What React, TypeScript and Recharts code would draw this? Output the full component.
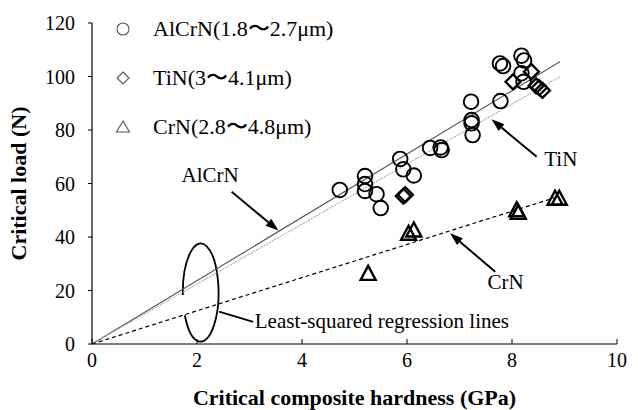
import {
  Legend,
  ReferenceArea,
  ReferenceDot,
  ReferenceLine,
  Scatter,
  ScatterChart,
  XAxis,
  YAxis,
} from 'recharts';

const FONT = '"Liberation Serif", Tinos, "Noto Serif", "DejaVu Serif", serif';

// AlCrN coatings
const alcrnHardness = [4.72, 5.2, 5.2, 5.2, 5.42, 5.5, 5.87, 5.93, 6.13, 6.44, 6.64, 6.66, 7.22, 7.23, 7.23, 7.25, 7.78, 7.77, 7.83, 8.18, 8.23, 8.18, 8.22];
const alcrnLoad = [57.6, 62.8, 59.8, 57.2, 56, 50.8, 69.2, 65.3, 63, 73.3, 73.5, 72.5, 90.6, 83.7, 82.5, 78.1, 90.8, 104.9, 103.9, 107.8, 106, 101.2, 98];

// TiN coatings
const tinHardness = [5.93, 5.97, 8.02, 8.37, 8.46, 8.52, 8.58];
const tinLoad = [55.3, 55.8, 98, 101.8, 96.5, 95.8, 94.8];

// CrN coatings
const crnHardness = [5.26, 6.03, 6.13, 8.09, 8.12, 8.82, 8.9];
const crnLoad = [26.4, 41.4, 42.6, 50.2, 49.2, 54.5, 54.5];

// regression line end points (from origin)
const alcrnFitEnd = { x: 8.91, y: 105.5 };
const tinFitEnd = { x: 8.91, y: 99.9 };
const crnFitEnd = { x: 8.85, y: 54.9 };

const xTicks = [0, 2, 4, 6, 8, 10];
const yTicks = [0, 20, 40, 60, 80, 100, 120];

const legendLabels = ['AlCrN(1.8〜2.7μm)', 'TiN(3〜4.1μm)', 'CrN(2.8〜4.8μm)'];

const toPoints = (xs: number[], ys: number[]) => xs.map((x, i) => ({ x, y: ys[i] }));

const alcrnData = toPoints(alcrnHardness, alcrnLoad);
const tinData = toPoints(tinHardness, tinLoad);
const crnData = toPoints(crnHardness, crnLoad);

const CircleMark = ({ cx, cy }: any) => (
  <circle cx={cx} cy={cy} r={7.3} fill="none" stroke="#000" strokeWidth={1.9} />
);

const DiamondMark = ({ cx, cy }: any) => (
  <polygon
    points={`${cx},${cy - 7.5} ${cx + 7.5},${cy} ${cx},${cy + 7.5} ${cx - 7.5},${cy}`}
    fill="none"
    stroke="#000"
    strokeWidth={2.3}
  />
);

const TriangleMark = ({ cx, cy }: any) => (
  <polygon
    points={`${cx},${cy - 7.5} ${cx + 7.5},${cy + 6.5} ${cx - 7.5},${cy + 6.5}`}
    fill="none"
    stroke="#000"
    strokeWidth={2.4}
    strokeLinejoin="miter"
  />
);

const arrowShape = (props: any) => {
  const { x1, y1, x2, y2 } = props;
  const a = Math.atan2(y2 - y1, x2 - x1);
  const len = 13;
  const half = 4.5;
  const bx = x2 - len * Math.cos(a);
  const by = y2 - len * Math.sin(a);
  const s = Math.sin(a);
  const c = Math.cos(a);
  return (
    <g>
      <line x1={x1} y1={y1} x2={bx} y2={by} stroke="#000" strokeWidth={2} />
      <polygon
        points={`${x2},${y2} ${bx + half * s},${by - half * c} ${bx - half * s},${by + half * c}`}
        fill="#000"
      />
    </g>
  );
};

const plainLine = (props: any) => {
  const { x1, y1, x2, y2 } = props;
  return <line x1={x1} y1={y1} x2={x2} y2={y2} stroke="#000" strokeWidth={1.8} />;
};

const ellipseShape = (props: any) => {
  const { x, y, width, height } = props;
  const cx = x + width / 2;
  const cy = y + height / 2;
  const rx = width / 2;
  const ry = height / 2;
  const pt = (t: number) => `${cx + rx * Math.cos(t)},${cy + ry * Math.sin(t)}`;
  return (
    <path
      d={`M${pt(Math.PI - 0.05)} A${rx},${ry} 0 1 1 ${pt(Math.PI - 0.48)}`}
      fill="none"
      stroke="#000"
      strokeWidth={1.8}
    />
  );
};

const textShape = (text: string, anchor: 'start' | 'middle' = 'middle') => (props: any) => (
  <text
    x={props.cx}
    y={props.cy}
    textAnchor={anchor}
    dominantBaseline="central"
    fontFamily={FONT}
    fontSize={21}
    fill="#000"
  >
    {text}
  </text>
);

const legendMarks = [
  <circle cx={13} cy={10} r={6} fill="none" stroke="#555" strokeWidth={1.1} />,
  <polygon points="13,4 19,10 13,16 7,10" fill="none" stroke="#555" strokeWidth={1.1} />,
  <polygon points="13,4 19.5,15 6.5,15" fill="none" stroke="#555" strokeWidth={1.1} />,
];

const LegendContent = () => (
  <div style={{ fontFamily: FONT, fontSize: 22, color: '#000' }}>
    {legendLabels.map((label, i) => (
      <div key={label} style={{ display: 'flex', alignItems: 'center', height: 49.2 }}>
        <svg width={26} height={20}>{legendMarks[i]}</svg>
        <span style={{ marginLeft: 17, whiteSpace: 'nowrap' }}>{label}</span>
      </div>
    ))}
  </div>
);

export default function App() {
  return (
    <div style={{ position: 'absolute', left: 0, top: 0, width: 638, height: 410, background: '#fff' }}>
      <ScatterChart width={638} height={410} margin={{ top: 23, right: 21, left: 0, bottom: 0 }}>
        <XAxis
          type="number"
          dataKey="x"
          domain={[0, 10]}
          ticks={xTicks}
          height={66}
          axisLine={{ stroke: '#000', strokeWidth: 1.2 }}
          tickLine={{ stroke: '#000' }}
          tickSize={-5}
          tickMargin={14}
          tick={{ fill: '#000', fontSize: 20, fontFamily: FONT }}
          label={{
            value: 'Critical composite hardness (GPa)',
            position: 'insideBottom',
            offset: 5,
            style: { fontFamily: FONT, fontSize: 22, fontWeight: 'bold', fill: '#000' },
          }}
        />
        <YAxis
          type="number"
          dataKey="y"
          domain={[0, 120]}
          ticks={yTicks}
          width={92}
          axisLine={{ stroke: '#000', strokeWidth: 1.2 }}
          tickLine={{ stroke: '#000' }}
          tickSize={4}
          tickMargin={13}
          tick={{ fill: '#000', fontSize: 20, fontFamily: FONT }}
          label={{
            value: 'Critical load (N)',
            angle: -90,
            position: 'insideLeft',
            offset: 18,
            style: { fontFamily: FONT, fontSize: 22, fontWeight: 'bold', fill: '#000', textAnchor: 'middle' },
          }}
        />
        <Legend
          layout="vertical"
          align="center"
          verticalAlign="middle"
          content={<LegendContent />}
          wrapperStyle={{ left: 110, top: 4, width: 270 }}
        />

        <ReferenceLine segment={[{ x: 0, y: 0 }, alcrnFitEnd]} stroke="#555" strokeWidth={1.1} />
        <ReferenceLine segment={[{ x: 0, y: 0 }, tinFitEnd]} stroke="#aaa" strokeWidth={1.1} strokeDasharray="2 1" />
        <ReferenceLine segment={[{ x: 0, y: 0 }, crnFitEnd]} stroke="#000" strokeWidth={1.2} strokeDasharray="4 3" />

        <ReferenceLine segment={[{ x: 2.66, y: 56.9 }, { x: 3.55, y: 42.4 }]} shape={arrowShape} />
        <ReferenceLine segment={[{ x: 8.47, y: 70 }, { x: 7.61, y: 84 }]} shape={arrowShape} />
        <ReferenceLine segment={[{ x: 7.68, y: 27 }, { x: 6.82, y: 41.4 }]} shape={arrowShape} />
        <ReferenceLine segment={[{ x: 2.42, y: 12.1 }, { x: 3.07, y: 8.3 }]} shape={plainLine} />
        <ReferenceArea x1={1.73} x2={2.41} y1={0.86} y2={37.6} shape={ellipseShape} />

        <ReferenceDot x={2.25} y={63.2} r={1} shape={textShape('AlCrN')} />
        <ReferenceDot x={8.93} y={69.2} r={1} shape={textShape('TiN')} />
        <ReferenceDot x={7.88} y={23} r={1} shape={textShape('CrN')} />
        <ReferenceDot x={3.1} y={8.6} r={1} shape={textShape('Least-squared regression lines', 'start')} />

        <Scatter name={legendLabels[0]} data={alcrnData} shape={CircleMark} isAnimationActive={false} />
        <Scatter name={legendLabels[1]} data={tinData} shape={DiamondMark} isAnimationActive={false} />
        <Scatter name={legendLabels[2]} data={crnData} shape={TriangleMark} isAnimationActive={false} />
      </ScatterChart>
    </div>
  );
}
